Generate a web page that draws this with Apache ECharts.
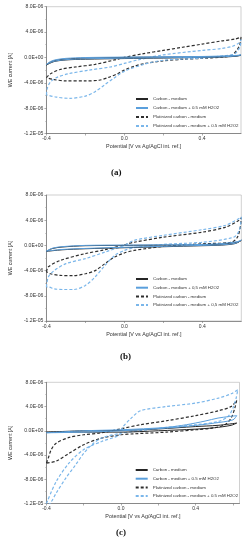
<!DOCTYPE html>
<html>
<head>
<meta charset="utf-8">
<script src="https://cdn.jsdelivr.net/npm/echarts@6/dist/echarts.min.js"></script>
<style>
html,body{margin:0;padding:0;background:#fff;}
#c{width:252px;height:550px;}
</style>
</head>
<body>
<div id="c"></div>
<script>
// Values: [potential V, current in 1e-6 A]
const NAMES_DOT = ['Carbon - medium','Carbon - medium + 0.5 mM H2O2','Platinized carbon - medium','Platinized carbon - medium + 0.5 mM H2O2'];
const NAMES_COMMA = ['Carbon - medium','Carbon - medium + 0,5 mM H2O2','Platinized carbon - medium','Platinized carbon - medium + 0,5 mM H2O2'];
const X_LABELS = [-0.4, 0.0, 0.4];
const Y_TICKS = [-12, -8, -4, 0, 4, 8];
const CAPTIONS = ['(a)','(b)','(c)'];

const a_carbon = [[-0.4,-1.2],[-0.38,-0.75],[-0.35,-0.45],[-0.3,-0.25],[-0.2,-0.1],[0,0],[0.2,0.05],[0.4,0.1],[0.5,0.15],[0.57,0.25],[0.6,0.35],[0.58,0.2],[0.5,0.05],[0.4,0],[0.2,-0.1],[0,-0.18],[-0.2,-0.28],[-0.3,-0.4],[-0.36,-0.65],[-0.4,-1.2]];
const a_carbonH2O2 = [[-0.4,-1.1],[-0.38,-0.65],[-0.35,-0.35],[-0.3,-0.15],[-0.2,-0.02],[0,0.05],[0.2,0.1],[0.4,0.15],[0.5,0.22],[0.57,0.3],[0.6,0.4],[0.58,0.25],[0.5,0.1],[0.4,0.02],[0.2,-0.05],[0,-0.12],[-0.2,-0.22],[-0.3,-0.35],[-0.36,-0.6],[-0.4,-1.1]];
const a_pt = [[-0.4,-3.2],[-0.38,-2.6],[-0.33,-1.9],[-0.25,-1.5],[-0.15,-1.1],[-0.05,-0.4],[0,0],[0.1,0.6],[0.2,1.1],[0.3,1.6],[0.4,2.1],[0.5,2.6],[0.57,2.9],[0.6,3.2],[0.595,2.2],[0.58,1.2],[0.55,0.3],[0.5,0.05],[0.4,-0.15],[0.3,-0.3],[0.2,-0.55],[0.1,-1.0],[0.05,-1.4],[0,-2.0],[-0.03,-2.5],[-0.08,-3.15],[-0.13,-3.6],[-0.2,-3.7],[-0.3,-3.7],[-0.36,-3.5],[-0.4,-3.2]];
const a_ptH2O2 = [[-0.4,-5.9],[-0.395,-4.8],[-0.38,-3.9],[-0.35,-3.2],[-0.29,-2.6],[-0.18,-2.0],[-0.07,-1.5],[0,-0.95],[0.07,-0.4],[0.2,0.4],[0.4,1.1],[0.5,1.4],[0.56,1.8],[0.59,2.3],[0.6,2.84],[0.595,1.7],[0.57,0.6],[0.52,0.3],[0.4,-0.1],[0.2,-0.45],[0.1,-1.1],[0,-2.2],[-0.05,-3.2],[-0.1,-4.3],[-0.15,-5.4],[-0.2,-6.1],[-0.28,-6.45],[-0.35,-6.25],[-0.4,-5.9]];

const b_carbon = [[-0.4,-0.95],[-0.37,-0.5],[-0.32,-0.26],[-0.2,-0.05],[0,0],[0.4,0.1],[0.5,0.2],[0.58,0.5],[0.6,0.8],[0.57,0.3],[0.5,0.05],[0.4,-0.05],[0,-0.37],[-0.2,-0.53],[-0.32,-0.7],[-0.4,-0.95]];
const b_carbonH2O2 = [[-0.4,-0.9],[-0.37,-0.45],[-0.32,-0.2],[-0.2,0],[0,0.05],[0.4,0.15],[0.5,0.3],[0.58,0.6],[0.6,0.85],[0.57,0.35],[0.5,0.1],[0.4,0],[0,-0.3],[-0.2,-0.48],[-0.32,-0.65],[-0.4,-0.9]];
const b_pt = [[-0.4,-4.2],[-0.39,-3.4],[-0.33,-2.4],[-0.2,-1.3],[-0.1,-0.7],[0,0.1],[0.05,0.5],[0.2,1.3],[0.4,2.1],[0.52,2.9],[0.59,4.0],[0.6,4.4],[0.595,2.9],[0.58,1.3],[0.55,0.5],[0.4,0.26],[0.2,-0.16],[0.05,-0.8],[0,-1.2],[-0.05,-1.85],[-0.1,-2.9],[-0.15,-4.0],[-0.2,-4.5],[-0.26,-4.8],[-0.33,-4.76],[-0.38,-4.5],[-0.4,-4.2]];
const b_ptH2O2 = [[-0.4,-6.6],[-0.39,-5.0],[-0.36,-4.0],[-0.3,-2.9],[-0.2,-2.1],[-0.1,-1.06],[0,0],[0.05,0.8],[0.2,1.6],[0.4,2.5],[0.52,3.2],[0.6,4.5],[0.59,2.4],[0.56,1.3],[0.4,0.5],[0.2,0.16],[0.05,-0.37],[0,-0.8],[-0.05,-1.6],[-0.1,-3.2],[-0.15,-5.0],[-0.2,-6.35],[-0.26,-7.0],[-0.31,-7.0],[-0.36,-6.9],[-0.39,-6.6],[-0.4,-6.6]];

const c_carbon = [[-0.4,-0.22],[-0.3,-0.1],[-0.2,0],[0,0.05],[0.2,0.3],[0.4,0.7],[0.52,0.9],[0.62,1.27],[0.59,0.9],[0.5,0.5],[0.4,0.27],[0.2,0],[0,-0.22],[-0.2,-0.22],[-0.4,-0.22]];
const c_carbonH2O2 = [[-0.4,-0.33],[-0.2,0],[0,0.17],[0.24,0.55],[0.35,1.0],[0.45,1.6],[0.52,2.1],[0.58,2.35],[0.62,2.5],[0.6,1.8],[0.5,1.27],[0.4,0.88],[0.24,0.44],[0,0],[-0.2,-0.22],[-0.4,-0.33]];
const c_pt = [[-0.4,-5.34],[-0.39,-4.5],[-0.374,-3.1],[-0.348,-2.04],[-0.278,-1.1],[-0.2,-0.66],[-0.104,-0.33],[0,0.33],[0.104,1.0],[0.243,1.65],[0.4,2.5],[0.522,3.3],[0.59,4.0],[0.62,5.0],[0.61,3.75],[0.59,2.1],[0.557,1.0],[0.487,0.44],[0.4,0.17],[0.243,-0.22],[0.07,-0.5],[0,-0.66],[-0.104,-1.2],[-0.2,-2.3],[-0.278,-3.7],[-0.348,-5.0],[-0.4,-5.34]];
const c_ptH2O2 = [[-0.4,-12],[-0.348,-8.4],[-0.278,-5.3],[-0.2,-3.1],[-0.104,-1.76],[-0.009,-0.66],[0.009,0.6],[0.052,2.0],[0.104,3.3],[0.243,4.0],[0.4,4.57],[0.522,5.4],[0.59,6.1],[0.626,6.8],[0.617,5.4],[0.6,3.75],[0.574,2.37],[0.522,1.54],[0.4,1.0],[0.243,0.55],[0.07,-0.11],[0,-0.39],[-0.104,-1.2],[-0.156,-2.3],[-0.2,-3.7],[-0.243,-5.6],[-0.296,-7.8],[-0.348,-10.3],[-0.374,-11.7],[-0.39,-12.2],[-0.4,-12]];

const FONT = '"Liberation Sans", Arial, sans-serif';
const STYLES = [
  {color:'#262626', type:'solid', width:1},
  {color:'#5a9fdc', type:'solid', width:1},
  {color:'#2e2e2e', type:[3,2], width:1.2},
  {color:'#7ab6ea', type:[3,2], width:1.2}
];

function sci(v){
  if (Math.abs(v) < 1e-9) return '0.0E+00';
  const a = v * 1e-6;
  let e = Math.floor(Math.log10(Math.abs(a)) + 1e-9);
  let m = (a / Math.pow(10, e)).toFixed(1);
  if (Math.abs(parseFloat(m)) >= 10) { e += 1; m = (a / Math.pow(10, e)).toFixed(1); }
  return m + 'E' + (e < 0 ? '-' : '+') + String(Math.abs(e)).padStart(2, '0');
}
function xlab(v){
  for (const t of X_LABELS) if (Math.abs(v - t) < 1e-6) return t.toFixed(1);
  return '';
}

const panels = [
  {grid:{left:34.3, top:6.7, width:206.7, height:126.8}, xmax:0.6, names:NAMES_DOT, data:[a_carbon,a_carbonH2O2,a_pt,a_ptH2O2], legend:{left:135, top:96.5, gap:4}, xGap:10.5, yGap:21.5, cap:{x:117, y:173}},
  {grid:{left:34.3, top:195, width:207, height:126}, xmax:0.6, names:NAMES_COMMA, data:[b_carbon,b_carbonH2O2,b_pt,b_ptH2O2], legend:{left:135, top:276.5, gap:3.7}, xGap:11, yGap:23, cap:{x:126, y:357}},
  {grid:{left:40, top:382.3, width:199.5, height:121.2}, xmax:0.635, names:NAMES_DOT, data:[c_carbon,c_carbonH2O2,c_pt,c_ptH2O2], legend:{left:134.7, top:467.5, gap:3.7}, xGap:10.5, yGap:26, cap:{x:122, y:533}}
];

const option = {animation:false, grid:[], xAxis:[], yAxis:[], series:[], legend:[], graphic:[]};
panels.forEach((p, i) => {
  option.grid.push(Object.assign({show:true, borderColor:'#b0b0b0', borderWidth:0.6, backgroundColor:'#fff'}, p.grid));
  option.xAxis.push({
    type:'value', gridIndex:i, min:-0.4, max:p.xmax, interval:0.2,
    name:'Potential [V vs Ag/AgCl int. ref.]', nameLocation:'middle', nameGap:p.xGap,
    nameTextStyle:{fontSize:5.4, color:'#333', fontFamily:FONT},
    axisLine:{show:true, onZero:false, lineStyle:{color:'#777', width:0.8}},
    axisTick:{show:true, length:2, inside:false, lineStyle:{color:'#777', width:0.6}},
    axisLabel:{formatter:xlab, fontSize:5, color:'#333', margin:3, fontFamily:FONT, showMaxLabel:false},
    splitLine:{show:false}
  });
  option.yAxis.push({
    type:'value', gridIndex:i, min:-12, max:8, interval:4,
    name:'WE current [A]', nameLocation:'middle', nameGap:p.yGap,
    nameTextStyle:{fontSize:5.3, color:'#333', fontFamily:FONT},
    axisLine:{show:true, onZero:false, lineStyle:{color:'#777', width:0.8}},
    axisTick:{show:true, length:2, lineStyle:{color:'#777', width:0.6}},
    minorTick:{show:true, splitNumber:2, length:1.3, lineStyle:{color:'#999', width:0.5}},
    axisLabel:{formatter:sci, fontSize:5.1, color:'#333', margin:3, fontFamily:FONT},
    splitLine:{show:false}
  });
  const order = [2,3,0,1];
  order.forEach(k => {
    const s = STYLES[k];
    option.series.push({
      type:'line', name:p.names[k], xAxisIndex:i, yAxisIndex:i,
      data:p.data[k], showSymbol:false, symbol:'none', smooth:0.3, clip:true,
      lineStyle:{color:s.color, type:s.type, width:s.width}, itemStyle:{color:s.color},
      z: k < 2 ? 3 : 2
    });
  });
  option.legend.push({
    data:p.names, orient:'vertical', left:p.legend.left, top:p.legend.top,
    itemWidth:12, itemHeight:5, itemGap:p.legend.gap, padding:0, selectedMode:false,
    itemStyle:{opacity:0, borderWidth:0, color:'transparent'},
    textStyle:{fontSize:4.4, lineHeight:5, color:'#333', fontFamily:FONT}
  });
  option.graphic.push({
    type:'text', left:p.cap.x - 6, top:p.cap.y - 5,
    style:{text:CAPTIONS[i], fontSize:9, fontWeight:'bold', fontFamily:'"Liberation Serif", "DejaVu Serif", serif', fill:'#111'}
  });
});

const chart = echarts.init(document.getElementById('c'), null, {renderer:'canvas'});
chart.setOption(option);
</script>
</body>
</html>
